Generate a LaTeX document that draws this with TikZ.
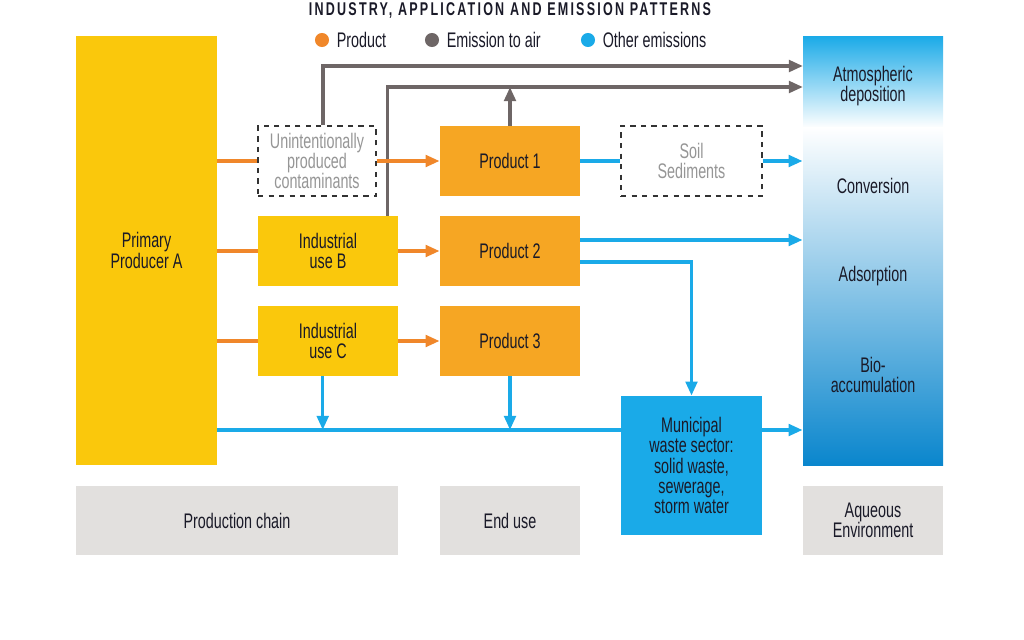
\documentclass[tikz,border=0pt]{standalone}
\usepackage{fontspec}
\setmainfont{Liberation Sans}[FakeStretch=0.68]
\usepackage{tikz}
\usetikzlibrary{positioning,calc}
\usetikzlibrary{arrows.meta}
\definecolor{ProdYellow}{RGB}{250,200,12}
\definecolor{ProdOrange}{RGB}{246,166,35}
\definecolor{FlowOrange}{RGB}{240,135,42}
\definecolor{AirGray}{RGB}{110,102,102}
\definecolor{WaterBlue}{RGB}{26,170,232}
\definecolor{DeepBlue}{RGB}{10,134,205}
\definecolor{LabelGray}{RGB}{226,224,222}
\definecolor{InkDark}{RGB}{26,26,40}
\definecolor{FaintText}{RGB}{150,150,150}
\tikzset{
  box/.style={draw=none,inner sep=2pt,minimum width=2.8cm,minimum height=1.4cm,
    align=center,text=InkDark,font=\fontsize{12}{11.6}\selectfont},
  yel/.style={box,fill=ProdYellow},
  org/.style={box,fill=ProdOrange},
  ghost/.style={box,draw=black!80,dashed,line width=0.8pt,fill=white,text=FaintText},
  caption/.style={box,fill=LabelGray,minimum height=1.38cm},
  prod/.style={draw=FlowOrange,line width=2pt},
  air/.style={draw=AirGray,line width=2pt},
  other/.style={draw=WaterBlue,line width=2pt},
  tip/.style={-{Triangle[length=8pt,width=6.5pt]}},
}
\tikzset{dot/.style={circle,inner sep=0pt,minimum size=8pt}, key/.style={font=\fontsize{12}{12}\selectfont,text=InkDark,anchor=west,inner sep=1pt}, zone/.style={font=\fontsize{12}{11.6}\selectfont,text=InkDark,align=center}}

\begin{document}
\begin{tikzpicture}[x=0.02cm,y=-0.02cm]
\useasboundingbox (0,0) rectangle (1024,639);
% title and legend
\node[font=\bfseries\fontsize{10.5}{10.5}\selectfont\addfontfeature{LetterSpace=12},text=InkDark] (title) at (510,10) {INDUSTRY, APPLICATION AND EMISSION PATTERNS};
\node[dot,fill=FlowOrange] (kp) at (322,40) {};
\node[key,right=3pt of kp] (kpt) {Product};
\node[dot,fill=AirGray] (ka) at (432,40) {};
\node[key,right=3pt of ka] (kat) {Emission to air};
\node[dot,fill=WaterBlue] (ko) at (588,40) {};
\node[key,right=3pt of ko] (kot) {Other emissions};
% aqueous column
\shade[top color=WaterBlue,bottom color=white] (803,36) rectangle (943,128);
\shade[top color=white,bottom color=DeepBlue] (803,127) rectangle (943,465);
\node[box,minimum height=8.58cm] (aq) at (873,250.5) {};
\node[zone] (atm) at (873,86) {Atmospheric\\deposition};
\node[zone] (conv) at (873,186) {Conversion};
\node[zone] (ads) at (873,276) {Adsorption};
\node[zone] (bio) at (873,375) {Bio-\\accumulation};
% chain boxes
\node[yel,minimum width=2.82cm,minimum height=8.58cm] (prim) at (146.5,250.5) {Primary\\Producer A};
\node[ghost,minimum width=2.36cm] (unint) at (317,161) {Unintentionally\\produced\\contaminants};
\node[yel] (indB) at (328,251) {Industrial\\use B};
\node[yel] (indC) at (328,341) {Industrial\\use C};
\node[org] (prod1) at (510,161) {Product 1};
\node[org] (prod2) at (510,251) {Product 2};
\node[org] (prod3) at (510,341) {Product 3};
\node[ghost,minimum width=2.82cm] (soil) at (691.5,161) {Soil\\Sediments};
% captions
\node[caption,minimum width=6.44cm] (chain) at (237,520.5) {Production chain};
\node[caption] (enduse) at (510,520.5) {End use};
\node[caption] (aqenv) at (873,520.5) {Aqueous\\Environment};
% emission to air
\coordinate (air1) at (803,66);
\coordinate (air2) at (803,87);
\draw[air,tip] ($(unint.north)+(6,0)$) |- (air1);
\draw[air,tip] ($(indB.north east)+(-11,0)$) |- (air2);
\draw[air,tip] (prod1.north) -- (prod1.north |- air2);
% product flows
\draw[prod] (prim.east |- unint.west) -- (unint.west);
\draw[prod,tip] (unint.east) -- (prod1.west);
\draw[prod] (prim.east |- indB.west) -- (indB.west);
\draw[prod,tip] (indB.east) -- (prod2.west);
\draw[prod] (prim.east |- indC.west) -- (indC.west);
\draw[prod,tip] (indC.east) -- (prod3.west);
% other emissions
\coordinate (low) at (0,430);
\draw[other] (prod1.east) -- (soil.west);
\draw[other,tip] (soil.east) -- (aq.west |- soil.east);
\draw[other,tip] ($(prod2.east)+(0,-11)$) -- (aq.west |- 0,240);
\draw[other,tip] (prim.east |- low) -- (aq.west |- low);
\draw[other,tip] ([xshift=-3pt]indC.south) -- ([xshift=-3pt]indC.south |- low);
\draw[other,tip] (prod3.south) -- (prod3.south |- low);
\node[box,fill=WaterBlue,minimum width=2.82cm,minimum height=2.78cm] (muni) at (691.5,465.5) {Municipal\\waste sector:\\solid waste,\\sewerage,\\storm water};
\draw[other,tip] ($(prod2.east)+(0,11)$) -| (muni.north);
\end{tikzpicture}
\end{document}
